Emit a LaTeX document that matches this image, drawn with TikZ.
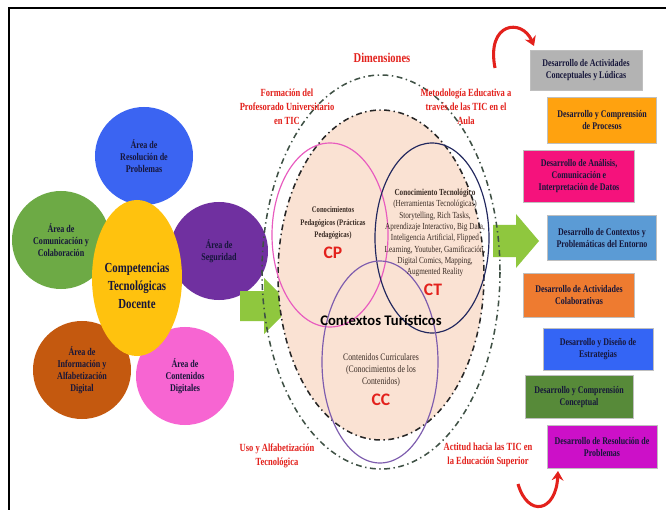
\documentclass[tikz,border=0pt]{standalone}
\usepackage{fontspec}
\setmainfont{Liberation Serif}
\newfontfamily\condserif[FakeStretch=0.78]{Liberation Serif}
\newfontfamily\calibri{Carlito}
\usetikzlibrary{shapes.geometric,arrows.meta}
\definecolor{areablue}{HTML}{3B64F2}
\definecolor{areagreen}{HTML}{6DAA45}
\definecolor{areapurple}{HTML}{7030A0}
\definecolor{areabrown}{HTML}{C4590F}
\definecolor{areapink}{HTML}{F765D2}
\definecolor{compyellow}{HTML}{FFC20E}
\definecolor{areatext}{HTML}{16163A}
\definecolor{peach}{HTML}{FAE2D3}
\definecolor{dimred}{HTML}{E3211C}
\definecolor{arrowgreen}{HTML}{8FC73E}
\definecolor{cpline}{HTML}{E85BBF}
\definecolor{ctline}{HTML}{22285E}
\definecolor{ccline}{HTML}{7D5CAE}
\definecolor{outerdash}{HTML}{3F5145}
\definecolor{midtext}{HTML}{3A2C25}
\definecolor{boxgray}{HTML}{B3B3B3}
\definecolor{boxamber}{HTML}{FFA20F}
\definecolor{boxrose}{HTML}{F5127C}
\definecolor{boxsky}{HTML}{5B9BD5}
\definecolor{boxorange}{HTML}{EE7B30}
\definecolor{boxblue}{HTML}{3465F5}
\definecolor{boxgreen}{HTML}{578A39}
\definecolor{boxmagenta}{HTML}{CC10C8}
\tikzset{>=stealth,
  area/.style={circle, minimum size=2.94cm, inner sep=0pt, align=center, text=areatext,
    font=\condserif\bfseries\fontsize{8.8}{10.4}\selectfont},
  devbox/.style={rectangle, draw=black!25, inner sep=1pt, align=center, text=areatext,
    font=\condserif\bfseries\fontsize{8.7}{10.2}\selectfont},
  dimlabel/.style={align=center, text=dimred, font=\condserif\bfseries\fontsize{9.3}{12}\selectfont},
  midlabel/.style={align=center, text=midtext, font=\condserif\fontsize{7.9}{9.7}\selectfont},
  tag/.style={text=dimred, font=\calibri\bfseries\fontsize{15}{15}\selectfont},
  dashdot/.style={line width=1.3pt, dash pattern=on 5pt off 3pt on 1.2pt off 3pt}
}

\begin{document}
\begin{tikzpicture}[x=0.03cm,y=-0.03cm]
        \useasboundingbox (0,0) rectangle (666,510);
        \fill[white] (0,0) rectangle (666,510);
        \draw[line width=1.6pt] (9,510)--(9,8)--(666,8);

        % Areas round the competences
        \node[area, fill=areablue] (resol) at (144,156) {Área de\\Resolución de\\Problemas};
        \node[area, fill=areagreen] (comun) at (61,240) {Área de\\Comunicación y\\Colaboración};
        \node[area, fill=areapurple] (segur) at (219,251) {Área de\\Seguridad};
        \node[area, fill=areabrown] (infor) at (82,370) {Área de\\Información y\\Alfabetización\\Digital};
        \node[area, fill=areapink] (conte) at (185,376) {Área de\\Contenidos\\Digitales};

        \node[ellipse, fill=compyellow, minimum width=2.7cm, minimum height=4.68cm] (comp) at (137,278) {};
        \node[align=center, text=areatext, font=\condserif\bfseries\fontsize{11.8}{15.3}\selectfont] (comptext) at (137,286) {Competencias\\Tecnológicas\\Docente};

        % Green block arrows
        \fill[arrowgreen] (240,291)--(264,291)--(264,278)--(292,306)--(264,334)--(264,321)--(240,321)--cycle;
        \fill[arrowgreen] (493,225)--(516,225)--(516,214)--(539,241)--(516,268)--(516,257)--(493,257)--cycle;

        % Dimensions
        \fill[peach] (381,275) ellipse [x radius=103, y radius=165];
        \draw[dashdot, outerdash] (381,272) ellipse [x radius=119, y radius=197];
        \draw[dashdot, black!85] (381,275) ellipse [x radius=103, y radius=165];

        \draw[cpline, line width=1pt] (330,235) ellipse [x radius=58, y radius=92];
        \draw[ctline, line width=1pt] (432,238) ellipse [x radius=57, y radius=95];
        \draw[ccline, line width=1pt] (380,362) ellipse [x radius=58, y radius=101];

        \node[dimlabel, font=\condserif\bfseries\fontsize{11.5}{12}\selectfont] (dimen) at (382,58) {Dimensiones};
        \node[dimlabel] (formac) at (287,107) {Formación del\\Profesorado Universitario\\en TIC};
        \node[dimlabel] (metod) at (466,107) {Metodología Educativa a\\través de las TIC en el\\Aula};
        \node[dimlabel] (usoalf) at (277,456) {Uso y Alfabetización\\Tecnológica};
        \node[dimlabel] (actit) at (488,455) {Actitud hacia las TIC en\\la Educación Superior};

        \node[midlabel, font=\condserif\bfseries\fontsize{7.3}{11}\selectfont] (cptext) at (333,223) {Conocimientos\\Pedagógicos (Prácticas\\Pedagógicas)};
        \node[tag] (cptag) at (333,253) {CP};
        \node[midlabel] (cttext) at (435,233) {\textbf{Conocimiento Tecnológico}\\(Herramientas Tecnológicas)\\Storytelling, Rich Tasks,\\Aprendizaje Interactivo, Big Data,\\Inteligencia Artificial, Flipped\\Learning, Youtuber, Gamificación,\\Digital Comics, Mapping,\\Augmented Reality};
        \node[tag] (cttag) at (433,290) {CT};
        \node[font=\calibri\bfseries\fontsize{12.5}{13}\selectfont] (context) at (381,320) {Contextos Turísticos};
        \node[midlabel, font=\condserif\fontsize{8.5}{10.5}\selectfont] (cctext) at (381,370) {Contenidos Curriculares\\(Conocimientos de los\\Contenidos)};
        \node[tag] (cctag) at (381,400) {CC};

        % Development boxes
        \node[devbox, fill=boxgray, minimum width=3.36cm, minimum height=1.2cm] (dev1) at (586,70) {Desarrollo de Actividades\\Conceptuales y Lúdicas};
        \node[devbox, fill=boxamber, minimum width=3.27cm, minimum height=1.38cm] (dev2) at (602,120) {Desarrollo y Comprensión\\de Procesos};
        \node[devbox, fill=boxrose, minimum width=3.33cm, minimum height=1.56cm] (dev3) at (579,176) {Desarrollo de Análisis,\\Comunicación e\\Interpretación de Datos};
        \node[devbox, fill=boxsky, minimum width=3.27cm, minimum height=1.35cm] (dev4) at (602,238) {Desarrollo de Contextos y\\Problemáticas del Entorno};
        \node[devbox, fill=boxorange, minimum width=3.33cm, minimum height=1.32cm] (dev5) at (579,295) {Desarrollo de Actividades\\Colaborativas};
        \node[devbox, fill=boxblue, minimum width=3.3cm, minimum height=1.26cm] (dev6) at (598,349) {Desarrollo y Diseño de\\Estrategias};
        \node[devbox, fill=boxgreen, minimum width=3.24cm, minimum height=1.29cm] (dev7) at (579,397) {Desarrollo y Comprensión\\Conceptual};
        \node[devbox, fill=boxmagenta, minimum width=3.3cm, minimum height=1.29cm] (dev8) at (602,447) {Desarrollo de Resolución de\\Problemas};

        % Red turning arrows
        \coordinate (topfoot) at (495,68);
        \coordinate (bottomfoot) at (518,484);
        \draw[dimred, line width=2.6pt, -{Stealth[length=8pt,width=10pt]}] (topfoot) .. controls (486,22) and (522,18) .. (534,46);
        \draw[dimred, line width=2.6pt, -{Stealth[length=8pt,width=10pt]}] (bottomfoot) .. controls (528,518) and (556,512) .. (558,471);
\end{tikzpicture}
\end{document}
